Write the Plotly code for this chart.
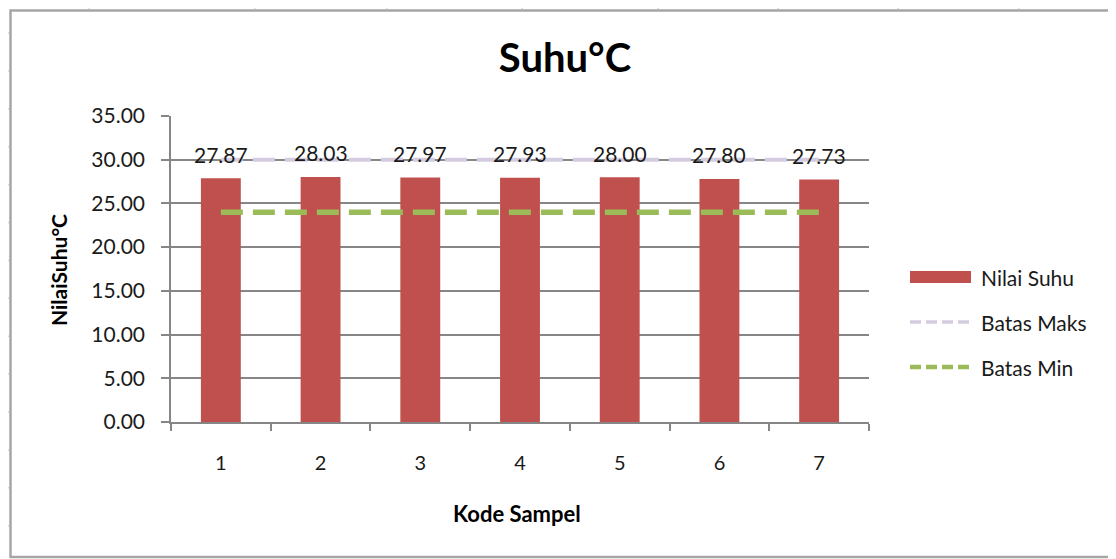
import plotly.graph_objects as go

categories = ["1", "2", "3", "4", "5", "6", "7"]
nilai_suhu = [27.87, 28.03, 27.97, 27.93, 28.00, 27.80, 27.73]
batas_maks = [30, 30, 30, 30, 30, 30, 30]
batas_min = [24, 24, 24, 24, 24, 24, 24]
y_ticks = [0, 5, 10, 15, 20, 25, 30, 35]

OFF = 8  # browser body margin
W, H = 1116 - OFF, 559 - OFF
L, R, T, B = 171 - OFF, 869 - OFF, 116 - OFF, 422 - OFF
pw, ph = R - L, B - T


def px(x):
    return (x - OFF - L) / pw


def py(y):
    return (B - (y - OFF)) / ph


FONT = "Lato, 'Open Sans', sans-serif"
TXT = "#1a1a1a"

fig = go.Figure()
fig.add_trace(go.Bar(x=categories, y=nilai_suhu, name="Nilai Suhu",
                     marker=dict(color="#c0504d", line=dict(width=0)),
                     width=0.4, showlegend=False))
fig.add_trace(go.Scatter(x=categories, y=batas_maks, name="Batas Maks", mode="lines",
                         line=dict(color="#d3cbe0", width=4, dash="22px,10px"),
                         showlegend=False))
fig.add_trace(go.Scatter(x=categories, y=batas_min, name="Batas Min", mode="lines",
                         line=dict(color="#9bbb59", width=5.5, dash="22px,10px"),
                         showlegend=False))

annotations = []
for i, v in enumerate(nilai_suhu):
    annotations.append(dict(x=i, y=v, xref="x", yref="y", text=f"{v:.2f}",
                            showarrow=False, yanchor="middle", yshift=24,
                            font=dict(family=FONT, size=21, color=TXT)))

annotations.append(dict(x=px(58), y=py(270), xref="paper", yref="paper",
                        text="<b>NilaiSuhu°C</b>", textangle=-90, showarrow=False,
                        xanchor="center", yanchor="middle",
                        font=dict(family=FONT, size=21, color="#000000")))
annotations.append(dict(x=px(517), y=py(513), xref="paper", yref="paper",
                        text="<b>Kode Sampel</b>", showarrow=False,
                        xanchor="center", yanchor="middle",
                        font=dict(family=FONT, size=22, color="#000000")))

shapes = []
# chart border
shapes.append(dict(type="rect", xref="paper", yref="paper",
                   x0=px(10.5), x1=px(1130), y0=py(557), y1=py(10.5),
                   line=dict(color="#a6a6a6", width=2.5), layer="below"))
# spreadsheet grid outside chart
for gx in [89, 255, 387, 522, 658, 778, 898, 1019]:
    shapes.append(dict(type="line", xref="paper", yref="paper",
                       x0=px(gx), x1=px(gx), y0=py(0), y1=py(9),
                       line=dict(color="#d0d7e5", width=1.5)))
gy = 33.0
while gy < 559:
    shapes.append(dict(type="line", xref="paper", yref="paper",
                       x0=px(0), x1=px(9), y0=py(gy), y1=py(gy),
                       line=dict(color="#d0d7e5", width=1.5)))
    gy += 37.9

# legend
legend_items = [
    ("Nilai Suhu", 277, dict(kind="bar", color="#c0504d")),
    ("Batas Maks", 322, dict(kind="line", color="#d3cbe0", width=3.5)),
    ("Batas Min", 367, dict(kind="line", color="#9bbb59", width=4.5)),
]
for label, yy, st in legend_items:
    if st["kind"] == "bar":
        shapes.append(dict(type="rect", xref="paper", yref="paper",
                           x0=px(910), x1=px(971), y0=py(yy + 6), y1=py(yy - 6),
                           fillcolor=st["color"], line=dict(width=0)))
    else:
        shapes.append(dict(type="line", xref="paper", yref="paper",
                           x0=px(910), x1=px(970), y0=py(yy), y1=py(yy),
                           line=dict(color=st["color"], width=st["width"], dash="11px,5px")))
    annotations.append(dict(x=px(979), y=py(yy), xref="paper", yref="paper",
                            text=label, showarrow=False, xanchor="left", yanchor="middle",
                            font=dict(family=FONT, size=21, color=TXT)))

fig.update_layout(
    width=W, height=H,
    margin=dict(l=L, r=W - R, t=T, b=H - B),
    paper_bgcolor="white", plot_bgcolor="white",
    title=dict(text="<b>Suhu°C</b>", x=(565 - OFF) / W, xref="container", xanchor="center",
               y=1 - (58 - OFF) / H, yanchor="middle", yref="container",
               font=dict(family=FONT, size=40, color="#000000")),
    annotations=annotations,
    shapes=shapes,
    showlegend=False,
)
fig.update_xaxes(type="category", tickson="boundaries", ticks="outside", ticklen=7,
                 tickcolor="#868686", tickwidth=1.5, ticklabelstandoff=22,
                 showline=True, linecolor="#868686", linewidth=1.5,
                 showgrid=False, tickfont=dict(family=FONT, size=20, color=TXT))
fig.update_yaxes(range=[0, 35], tickvals=y_ticks, tickformat=".2f",
                 ticks="outside", ticklen=8, tickcolor="#868686", tickwidth=1.5,
                 ticklabelstandoff=12,
                 showline=True, linecolor="#868686", linewidth=1.5,
                 showgrid=True, gridcolor="#868686", gridwidth=1.5,
                 zeroline=False, tickfont=dict(family=FONT, size=21, color=TXT))

fig.write_html("out.html")
